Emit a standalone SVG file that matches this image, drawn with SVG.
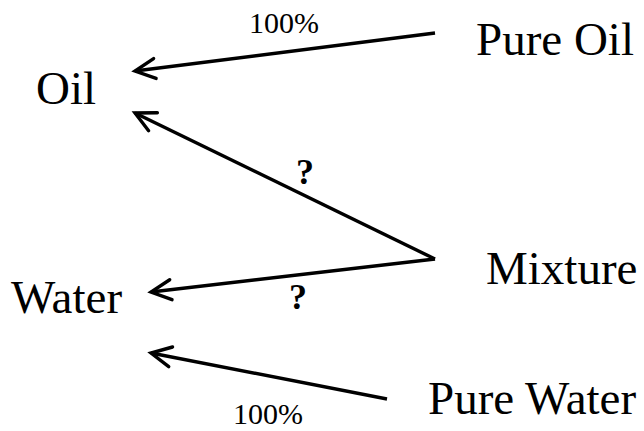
<svg xmlns="http://www.w3.org/2000/svg" width="644" height="431" viewBox="0 0 644 431">
  <defs>
    <marker id="arrow" markerUnits="userSpaceOnUse" viewBox="-24 -13 28 26" refX="0" refY="0" markerWidth="28" markerHeight="26" orient="auto">
      <path d="M -20,-10 L 0,0 L -20,10" fill="none" stroke="#000" stroke-width="3.4" stroke-linecap="round" stroke-linejoin="miter"/>
    </marker>
    <style>
      .lbl { font-family: "Liberation Serif", "Times New Roman", serif; font-size: 47px; fill: #000; }
      .pct { font-family: "Liberation Serif", "Times New Roman", serif; font-size: 30px; fill: #000; text-anchor: middle; }
      .q { font-family: "Liberation Serif", "Times New Roman", serif; font-size: 36px; font-weight: bold; fill: #000; text-anchor: middle; }
      .edge { stroke: #000; stroke-width: 3.4; fill: none; marker-end: url(#arrow); }
    </style>
  </defs>
  <rect width="644" height="431" fill="#fff"/>
  <g id="connectors">
    <line class="edge" x1="435" y1="33" x2="135" y2="71"/>
    <line class="edge" x1="435" y1="259" x2="135" y2="113"/>
    <line class="edge" x1="435" y1="259" x2="151" y2="292"/>
    <line class="edge" x1="387" y1="399" x2="151" y2="353"/>
    <text class="pct" x="284" y="33">100%</text>
    <text class="q" x="305" y="184">?</text>
    <text class="q" x="298" y="309">?</text>
    <text class="pct" x="268" y="424">100%</text>
  </g>
  <g id="node-pure-oil"><text class="lbl" x="476" y="55">Pure Oil</text></g>
  <g id="node-oil"><text class="lbl" x="36" y="104">Oil</text></g>
  <g id="node-mixture"><text class="lbl" x="486" y="284">Mixture</text></g>
  <g id="node-water"><text class="lbl" x="11" y="313">Water</text></g>
  <g id="node-pure-water"><text class="lbl" x="428" y="414">Pure Water</text></g>
</svg>
